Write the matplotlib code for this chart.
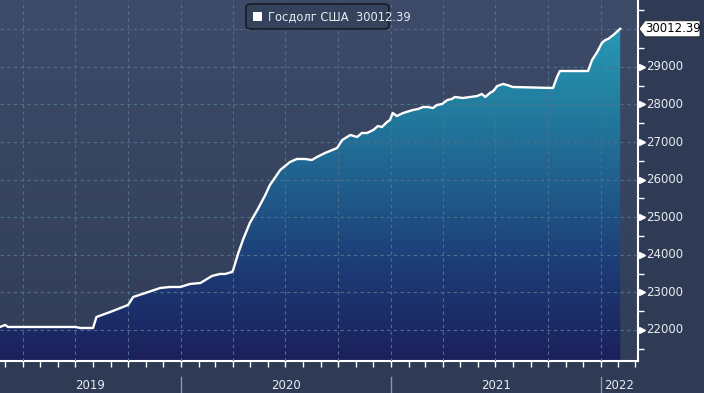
import matplotlib
matplotlib.use("Agg")
import matplotlib.pyplot as plt
import matplotlib.dates as mdates
import numpy as np
import pandas as pd
from matplotlib.colors import LinearSegmentedColormap
from matplotlib.patches import Polygon, FancyBboxPatch, Rectangle

# ------------------------------------------------------------
# Data (US public debt, bn USD)
# ------------------------------------------------------------

DATES = [
    "2019-02-20", "2019-03-01", "2019-03-06", "2019-07-01", "2019-07-10",
    "2019-08-01", "2019-08-07", "2019-08-31", "2019-10-01", "2019-10-10",
    "2019-10-31", "2019-11-26", "2019-12-13", "2019-12-31", "2020-01-17",
    "2020-02-04", "2020-02-24", "2020-03-09", "2020-03-18", "2020-03-30",
    "2020-04-01", "2020-04-10", "2020-04-18", "2020-04-30", "2020-05-15",
    "2020-05-27", "2020-06-04", "2020-06-22", "2020-07-09", "2020-07-21",
    "2020-08-04", "2020-08-16", "2020-08-25", "2020-09-08", "2020-09-25",
    "2020-09-29", "2020-10-08", "2020-10-22", "2020-11-03", "2020-11-11",
    "2020-11-20", "2020-12-01", "2020-12-09", "2020-12-16", "2020-12-25",
    "2020-12-30", "2021-01-04", "2021-01-11", "2021-01-22", "2021-02-08",
    "2021-02-17", "2021-02-26", "2021-03-06", "2021-03-15", "2021-03-22",
    "2021-03-31", "2021-04-09", "2021-04-17", "2021-04-22", "2021-05-06",
    "2021-05-19", "2021-05-31", "2021-06-08", "2021-06-14", "2021-06-22",
    "2021-06-28", "2021-07-05", "2021-07-15", "2021-07-22", "2021-08-01",
    "2021-10-10", "2021-10-17", "2021-10-22", "2021-12-10", "2021-12-17",
    "2021-12-26", "2022-01-03", "2022-01-09", "2022-01-14", "2022-01-23",
    "2022-02-04",
]

DEBT = [
    22080, 22133, 22080, 22080, 22053,
    22053, 22346, 22479, 22665, 22878,
    22984, 23117, 23144, 23144, 23224,
    23250, 23436, 23490, 23490, 23543,
    23596, 24048, 24394, 24846, 25245,
    25591, 25857, 26256, 26469, 26549,
    26549, 26522, 26602, 26708, 26815,
    26841, 27054, 27187, 27134, 27240,
    27240, 27320, 27426, 27400, 27533,
    27586, 27772, 27692, 27772, 27852,
    27879, 27932, 27932, 27905, 27985,
    28012, 28118, 28145, 28198, 28171,
    28198, 28224, 28278, 28198, 28304,
    28357, 28490, 28544, 28517, 28464,
    28437, 28730, 28889, 28889, 29182,
    29395, 29634, 29714, 29741, 29847,
    30012.39,
]

LAST_LABEL = "30012.39"
SERIES_NAME = "Госдолг США"
Y_TICKS = [22000, 23000, 24000, 25000, 26000, 27000, 28000, 29000]
YEARS = [2019, 2020, 2021, 2022]

# ------------------------------------------------------------
# Style
# ------------------------------------------------------------

FIG_BG = "#2f3b55"
TEXT_COL = "#e8ecf2"
GRID_COL = "#4f6f8f"

plt.rcParams["font.family"] = ["DejaVu Sans"]

dates = pd.to_datetime(DATES)
x = mdates.date2num(dates)
y = np.array(DEBT)

x_min = mdates.date2num(pd.Timestamp("2019-02-20"))
x_max = mdates.date2num(pd.Timestamp("2022-03-07"))
y_min, y_max = 21175, 30778

W, H = 704, 393
fig = plt.figure(figsize=(W / 100, H / 100), dpi=100)
fig.patch.set_facecolor(FIG_BG)

ax = fig.add_axes([0, 32 / H, 638 / W, 361 / H])
ax.set_xlim(x_min, x_max)
ax.set_ylim(y_min, y_max)

# background gradient of the plot area
bg_cmap = LinearSegmentedColormap.from_list("bg", ["#323e58", "#3d4b69"])
grad = np.linspace(0, 1, 256).reshape(-1, 1)
ax.imshow(grad, cmap=bg_cmap, aspect="auto", origin="lower",
          extent=[x_min, x_max, y_min, y_max], zorder=0)

# area gradient clipped to the filled region
fill = ax.fill_between(x, y, y_min, color="none", lw=0, zorder=1)
fill_cmap = LinearSegmentedColormap.from_list(
    "fill", ["#1b205c", "#1d3a74", "#20608e", "#2383a3", "#2aa4bf"]
)
img = ax.imshow(grad, cmap=fill_cmap, aspect="auto", origin="lower",
                extent=[x_min, x_max, y_min, y_max], zorder=1)
img.set_clip_path(fill.get_paths()[0], transform=ax.transData)

ax.plot(x, y, color="white", lw=1.7, zorder=3, solid_joinstyle="round")

# grid
ax.xaxis.set_major_locator(mdates.MonthLocator(bymonth=[1, 4, 7, 10]))
ax.xaxis.set_minor_locator(mdates.MonthLocator())
ax.set_yticks(Y_TICKS + [30000])
ax.set_yticks(np.arange(21500, 31000, 1000), minor=True)
ax.grid(True, which="major", color=GRID_COL, lw=0.8, ls=(0, (3, 3)), zorder=2)
ax.set_axisbelow(False)
for gl in ax.get_xgridlines() + ax.get_ygridlines():
    gl.set_zorder(2)

# spines and ticks
for side in ["top", "left"]:
    ax.spines[side].set_visible(False)
for side in ["right", "bottom"]:
    ax.spines[side].set_color("white")
    ax.spines[side].set_linewidth(1.5)

ax.yaxis.tick_right()
ax.tick_params(axis="x", which="both", direction="out", length=4, width=1,
               color="white", labelbottom=False)
ax.tick_params(axis="y", which="major", length=0, labelright=False)
ax.tick_params(axis="y", which="minor", direction="out", length=4, width=1,
               color="white")

ytrans = ax.get_yaxis_transform()
for t in Y_TICKS:
    ax.plot([1.006], [t], marker=">", ms=5, color="white", transform=ytrans,
            clip_on=False, zorder=5)
    ax.text(1.013, t, f"{t}", transform=ytrans, ha="left", va="center",
            fontsize=8.5, color=TEXT_COL)

# year labels and separators below the axis
xtrans = ax.get_xaxis_transform()
for yr in YEARS:
    start = max(mdates.date2num(pd.Timestamp(f"{yr}-01-01")), x_min)
    end = min(mdates.date2num(pd.Timestamp(f"{yr + 1}-01-01")), x_max)
    ax.text((start + end) / 2, -0.068, str(yr), transform=xtrans,
            ha="center", va="center", fontsize=8.5, color=TEXT_COL)
    if yr > YEARS[0]:
        ax.plot([start, start], [-0.045, -0.12], transform=xtrans,
                color="#8a96aa", lw=1, clip_on=False)

# last value tag
fig.canvas.draw()
px, py = ax.transData.transform((x_max, y[-1]))
tag = Polygon(
    [(px + 1, py), (px + 7, py + 8), (px + 62, py + 8),
     (px + 62, py - 8), (px + 7, py - 8)],
    closed=True, transform=None, facecolor="white", edgecolor="#222222",
    lw=0.6, zorder=6, figure=fig,
)
fig.patches.append(tag)
fig.text((px + 35) / W, py / H, LAST_LABEL, ha="center", va="center",
         fontsize=8.5, color="black", zorder=7)

# legend box
box = FancyBboxPatch((246 / W, (H - 29) / H), 143 / W, 25 / H,
                     boxstyle="round,pad=0,rounding_size=0.008",
                     transform=fig.transFigure, facecolor="#35425c",
                     edgecolor="#111418", lw=1.0, zorder=6)
fig.patches.append(box)
fig.patches.append(Rectangle((253 / W, (H - 21) / H), 9 / W, 9 / H,
                             transform=fig.transFigure, facecolor="white",
                             edgecolor="none", zorder=7))
fig.text(268 / W, (H - 16.5) / H, f"{SERIES_NAME}  {LAST_LABEL}",
         ha="left", va="center", fontsize=8.3, color=TEXT_COL, zorder=7)

fig.savefig("out.png", dpi=100, facecolor=fig.get_facecolor())
